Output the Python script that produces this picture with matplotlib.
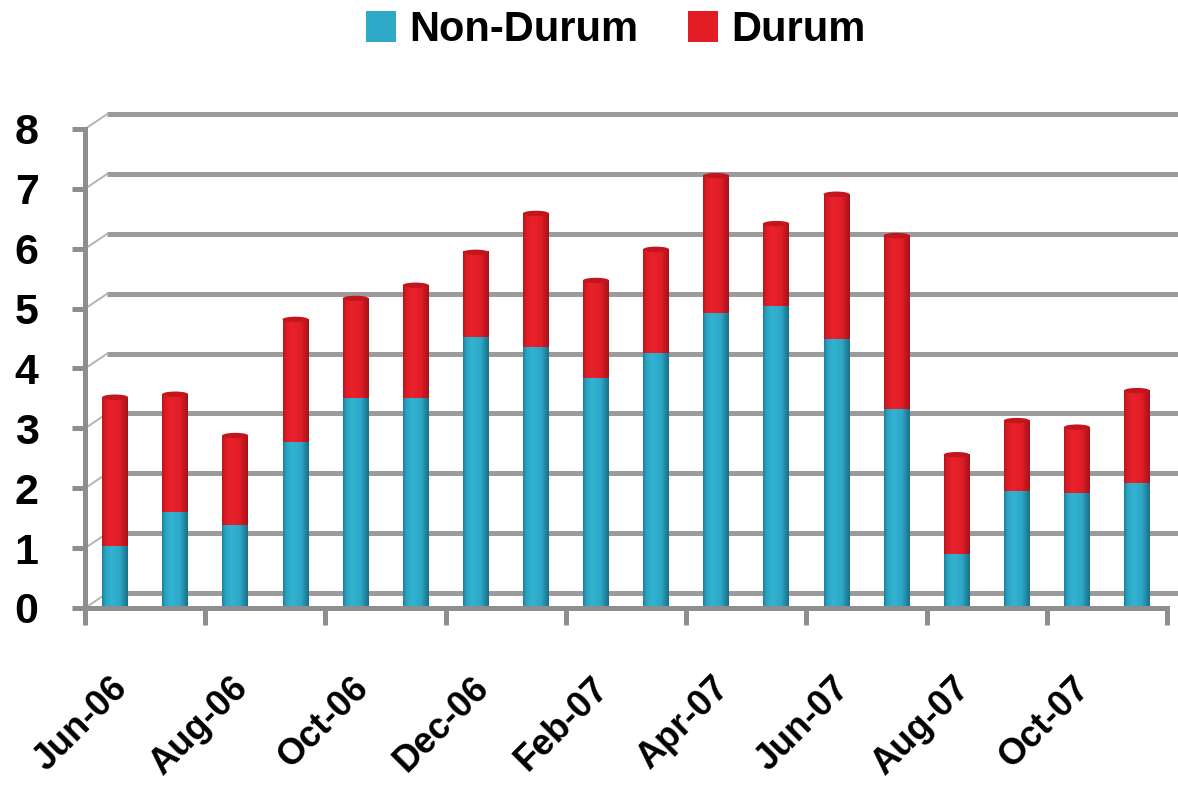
import matplotlib.pyplot as plt
import numpy as np
from matplotlib.colors import LinearSegmentedColormap
from matplotlib.patches import Ellipse
from matplotlib.transforms import ScaledTranslation

# monthly volumes, Jun-06 .. Nov-07
months = ['Jun-06', 'Jul-06', 'Aug-06', 'Sep-06', 'Oct-06', 'Nov-06',
          'Dec-06', 'Jan-07', 'Feb-07', 'Mar-07', 'Apr-07', 'May-07',
          'Jun-07', 'Jul-07', 'Aug-07', 'Sep-07', 'Oct-07', 'Nov-07']
non_durum = [1.04, 1.60, 1.39, 2.77, 3.51, 3.51, 4.52, 4.36, 3.84,
             4.26, 4.93, 5.05, 4.49, 3.32, 0.90, 1.95, 1.92, 2.09]
durum = [2.48, 1.97, 1.49, 2.05, 1.66, 1.88, 1.42, 2.23, 1.63,
         1.73, 2.29, 1.37, 2.42, 2.90, 1.66, 1.18, 1.10, 1.54]
series_names = ['Non-Durum', 'Durum']
y_ticks = list(range(9))

plt.rcParams['font.family'] = ['Liberation Sans', 'DejaVu Sans']
plt.rcParams['font.weight'] = 'bold'

teal = '#2ea9c8'
red = '#e31d26'
grey = '#8e8e8e'

fig = plt.figure(figsize=(11.78, 7.85), dpi=100)
ax = fig.add_axes([0.0722, 0.2255, 0.9185, 0.6102])

x = np.arange(len(months))
width = 0.43
totals = np.array(non_durum) + np.array(durum)

b1 = ax.bar(x, non_durum, width, color=teal, zorder=3)
b2 = ax.bar(x, durum, width, bottom=non_durum, color=red, zorder=3)

# cylinder shading across each bar
teal_cm = LinearSegmentedColormap.from_list(
    'teal_cyl', [(0, '#1d7f98'), (0.12, '#2aa3c1'), (0.35, '#33b3d2'),
                 (0.7, '#2da7c6'), (1, '#1b6f86')])
red_cm = LinearSegmentedColormap.from_list(
    'red_cyl', [(0, '#b5161d'), (0.12, '#dc1b24'), (0.35, '#e8222b'),
                (0.7, '#e01c25'), (1, '#a3131a')])
grad = np.linspace(0, 1, 64)[np.newaxis, :]
for bars, cm in ((b1, teal_cm), (b2, red_cm)):
    for r in bars:
        x0, y0 = r.get_x(), r.get_y()
        ax.imshow(grad, cmap=cm, aspect='auto', interpolation='bicubic',
                  extent=[x0, x0 + r.get_width(), y0, y0 + r.get_height()],
                  zorder=3.5)

# elliptical caps on top of the stacks
for xi, t in zip(x, totals):
    ax.add_patch(Ellipse((xi, t), width, 0.09, facecolor='#c3151d',
                         edgecolor='none', zorder=4))

# back wall gridlines with short depth connectors
for v in y_ticks:
    ax.plot([-0.13, 17.72], [v + 0.25, v + 0.25], color='#9b9b9b', lw=3.6,
            solid_capstyle='butt', clip_on=False, zorder=1)
    ax.plot([-0.5, -0.13], [v, v + 0.25], color='#b4b4b4', lw=1.4,
            clip_on=False, zorder=1)

ax.set_xlim(-0.5, 17.5)
ax.set_ylim(0, 8)

for s in ('top', 'right'):
    ax.spines[s].set_visible(False)
for s in ('left', 'bottom'):
    ax.spines[s].set_color(grey)
    ax.spines[s].set_linewidth(3.6)
    ax.spines[s].set_zorder(5)

ax.set_yticks(y_ticks)
ax.tick_params(axis='y', length=9.5, width=3.6, color=grey, pad=24,
               labelsize=31)

ax.set_xticks(np.arange(-0.5, 18, 2))
ax.set_xticklabels([])
ax.tick_params(axis='x', which='major', length=12, width=3.6, color=grey)
ax.set_xticks(x[::2], labels=months[::2], minor=True)
ax.tick_params(axis='x', which='minor', length=0, pad=45, labelsize=26)
shift = ScaledTranslation(-0.05, 0, fig.dpi_scale_trans)
for lab in ax.get_xticklabels(minor=True):
    lab.set_rotation(45)
    lab.set_ha('right')
    lab.set_rotation_mode('anchor')
    lab.set_transform(lab.get_transform() + shift)

fig.legend([b1, b2], series_names, loc='upper center',
           bbox_to_anchor=(0.523, 1.025), ncol=2, frameon=False,
           fontsize=30, handlelength=0.7, handleheight=0.77,
           handletextpad=0.33, columnspacing=1.2, borderpad=0.2)

fig.savefig('out.png', dpi=100)
